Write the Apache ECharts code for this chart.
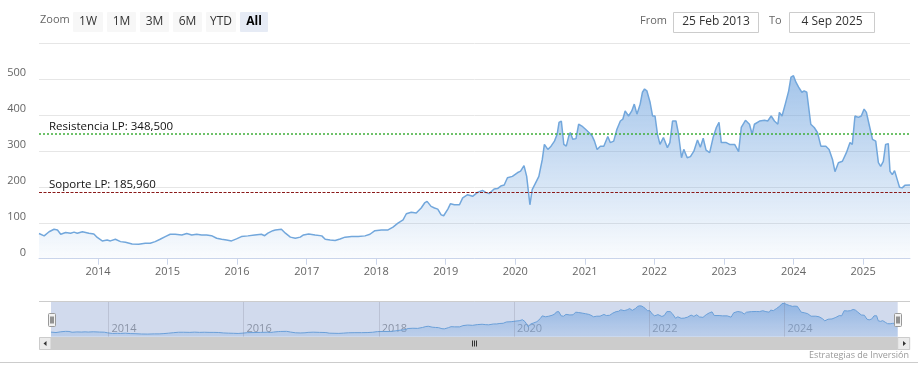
<!DOCTYPE html>
<html><head><meta charset="utf-8">
<script src="https://cdn.jsdelivr.net/npm/echarts@6/dist/echarts.min.js"></script>
<style>html,body{margin:0;padding:0;background:#fff}#c{width:918px;height:375px}</style>
</head><body><div id="c"></div><script>
const dates = [
'2013-02-25','2013-03-24','2013-04-19','2013-05-15','2013-06-02','2013-06-19','2013-07-15','2013-08-10','2013-08-28','2013-09-14','2013-10-11','2013-11-14','2013-12-10','2013-12-28',
'2014-01-23','2014-02-18','2014-03-07','2014-04-02','2014-04-29','2014-05-25','2014-06-29','2014-08-02','2014-09-06','2014-10-02','2014-10-28','2014-11-23','2014-12-20',
'2015-01-15','2015-02-10','2015-03-17','2015-04-12','2015-05-08','2015-06-03','2015-06-29','2015-07-25','2015-08-20','2015-09-16','2015-10-12','2015-11-07','2015-12-03','2015-12-29',
'2016-01-24','2016-02-27','2016-04-03','2016-05-08','2016-05-25','2016-06-11','2016-07-07','2016-07-20','2016-08-21','2016-09-11','2016-10-07','2016-11-02','2016-11-28','2016-12-15',
'2017-01-11','2017-02-14','2017-03-21','2017-04-08','2017-05-04','2017-05-30','2017-06-25','2017-07-21','2017-08-25','2017-09-29','2017-11-03','2017-11-29','2017-12-25',
'2018-01-28','2018-03-04','2018-03-30','2018-04-25','2018-05-22','2018-06-08','2018-07-04','2018-07-30','2018-08-25','2018-09-12','2018-09-25','2018-10-16','2018-11-03','2018-11-20','2018-12-08','2018-12-21',
'2019-01-12','2019-01-26','2019-02-15','2019-03-14','2019-03-31','2019-04-26','2019-05-22','2019-06-17','2019-07-13','2019-07-30','2019-08-17','2019-09-12','2019-09-30','2019-10-17','2019-11-04','2019-11-21','2019-12-17',
'2020-01-12','2020-01-29','2020-02-16','2020-03-01','2020-03-09','2020-03-18','2020-03-30','2020-04-17','2020-05-04','2020-05-22','2020-06-02','2020-06-20','2020-07-07','2020-07-25','2020-08-08','2020-08-18','2020-08-30','2020-09-12','2020-09-25','2020-10-08','2020-10-16','2020-10-29','2020-11-15','2020-11-29','2020-12-16',
'2021-01-04','2021-01-22','2021-02-08','2021-02-20','2021-03-06','2021-03-23','2021-04-10','2021-05-01','2021-05-14','2021-06-01','2021-06-18','2021-07-06','2021-07-19','2021-07-31','2021-08-18','2021-09-04','2021-09-17','2021-10-01','2021-10-18','2021-10-30','2021-11-10','2021-11-22','2021-12-09','2021-12-22',
'2022-01-04','2022-01-17','2022-01-30','2022-02-17','2022-03-10','2022-03-23','2022-04-06','2022-04-24','2022-05-06','2022-05-23','2022-06-04','2022-06-22','2022-07-09','2022-07-27','2022-08-15','2022-08-30','2022-09-14','2022-09-29','2022-10-18','2022-11-05','2022-11-22','2022-12-06','2022-12-18',
'2023-01-13','2023-01-31','2023-02-26','2023-03-19','2023-04-02','2023-04-24','2023-05-15','2023-05-29','2023-06-10','2023-07-07','2023-08-02','2023-08-19','2023-09-06','2023-09-23','2023-10-11','2023-10-19','2023-11-02','2023-11-19','2023-12-07','2023-12-19',
'2024-01-01','2024-01-14','2024-01-28','2024-02-14','2024-02-26','2024-03-11','2024-03-20','2024-04-01','2024-04-19','2024-05-06','2024-05-24','2024-06-19','2024-07-06','2024-07-24','2024-08-06','2024-08-24','2024-09-14','2024-10-05','2024-10-24','2024-11-05','2024-11-19','2024-12-07','2024-12-22',
'2025-01-06','2025-01-18','2025-02-01','2025-02-19','2025-03-08','2025-03-22','2025-04-03','2025-04-17','2025-04-29','2025-05-13','2025-05-22','2025-06-03','2025-06-15','2025-06-29','2025-07-11','2025-07-25','2025-08-08','2025-09-04'
];
const values = [
70,63.5,75,82,80,68,73,71,74,71,75,71,69,59,
49.5,52,49.5,54,47.5,46,41,40,43,43,47.5,54,61.5,
68,68,66,70,66,68,66,66,64,57,54,52,49.5,55,
61.5,63.5,66,68,64,71,78,80,82,71,60,57,60,66,
69,66,63.5,54,52,50.5,55,60,61.5,61.5,63.5,68,78,
80,80,88,99,108,125,129,127,141,155,159.5,145.5,141,138,122,119.5,
138,153,150,150,169,178,173.5,184.5,190,184.5,181,194,195,202,205,225,229,
239,243.5,259,229,192,150,192,211,229,276,318,304,313,327,346,379,383,318,313,341,351,332,334,374,369,
360,351,341,327,304,313,313,340,323,327,360,383,388,411,397,411,430,402,430,463,472,467,435,397,
397,346,318,337,309,323,383,383,351,281,304,281,284,299,330,310,335,302,295,337,365,379,323,
323,318,318,298,365,385,374,346,374,383,385,383,397,383,374,407,397,430,467,505,
509,491,477,463,467,463,467,374,365,351,313,313,304,276,242,267,271,295,323,318,397,393,397,
416,407,374,332,327,267,257,271,318,320,243,234,245,220,199,197,204,205
];
const xYears = [2014,2015,2016,2017,2018,2019,2020,2021,2022,2023,2024,2025];
const navYears = [2014,2016,2018,2020,2022,2024];
const yTicks = [0,100,200,300,400,500,600];
const levels = [
  {name:'Resistencia LP', value:348.5, text:'348,500', color:'#3fae3a', dash:[2,2], width:1.5},
  {name:'Soporte LP', value:185.96, text:'185,960', color:'#8b1a1a', dash:[3,1.5], width:1.2}
];
const rangeButtons = ['1W','1M','3M','6M','YTD','All'];
const fromText = '25 Feb 2013', toText = '4 Sep 2025';

const F = 'Open Sans';
const data = dates.map((d,i)=>[Date.parse(d), values[i]]);
const xMin = Date.parse(dates[0]), xMax = Date.parse(dates[dates.length-1]);
const yearVals = xYears.map(y=>Date.UTC(y,0,1));
const navVals = navYears.map(y=>Date.UTC(y,0,1));
const yr = v => String(new Date(v).getUTCFullYear());

// UI chrome (range selector, inputs, scrollbar)
const graphics = [];
graphics.push({type:'text', left:40, top:14, style:{text:'Zoom', fill:'#666', font:'11px "Open Sans"'}});
const btnX = [73,107,140,173,206,240], btnW = [30,29,29,29,30,28];
rangeButtons.forEach((b,i)=>{
  const sel = b==='All';
  graphics.push({type:'rect', shape:{x:btnX[i], y:12, width:btnW[i], height:20, r:1}, style:{fill: sel?'#e6ebf5':'#f7f7f7'}});
  graphics.push({type:'text', x:btnX[i]+btnW[i]/2, y:22, style:{text:b, fill: sel?'#000':'#333', align:'center', verticalAlign:'middle', font:(sel?'bold ':'')+'12px "Open Sans"'}});
});
graphics.push({type:'text', x:640, y:21, style:{text:'From', fill:'#666', verticalAlign:'middle', font:'11px "Open Sans"'}});
graphics.push({type:'rect', shape:{x:673.5, y:12.5, width:85, height:20}, style:{fill:'#fff', stroke:'#cccccc', lineWidth:1}});
graphics.push({type:'text', x:716, y:22, style:{text:fromText, fill:'#333', align:'center', verticalAlign:'middle', font:'12px "Open Sans"'}});
graphics.push({type:'text', x:769, y:21, style:{text:'To', fill:'#666', verticalAlign:'middle', font:'11px "Open Sans"'}});
graphics.push({type:'rect', shape:{x:789.5, y:12.5, width:85, height:20}, style:{fill:'#fff', stroke:'#cccccc', lineWidth:1}});
graphics.push({type:'text', x:832, y:22, style:{text:toText, fill:'#333', align:'center', verticalAlign:'middle', font:'12px "Open Sans"'}});
// navigator outline
graphics.push({type:'line', shape:{x1:39, y1:301.5, x2:910, y2:301.5}, style:{stroke:'#cccccc', lineWidth:1}, z:10});
// handles
[[48.5,313.5],[894.5,313.5]].forEach(p=>{
  graphics.push({type:'rect', shape:{x:p[0], y:p[1], width:7, height:13, r:1}, style:{fill:'#f2f2f2', stroke:'#999', lineWidth:1}, z:20});
  graphics.push({type:'line', shape:{x1:p[0]+2.5, y1:p[1]+3, x2:p[0]+2.5, y2:p[1]+10}, style:{stroke:'#333', lineWidth:1}, z:21});
  graphics.push({type:'line', shape:{x1:p[0]+4.5, y1:p[1]+3, x2:p[0]+4.5, y2:p[1]+10}, style:{stroke:'#333', lineWidth:1}, z:21});
});
// scrollbar
graphics.push({type:'rect', shape:{x:39, y:337, width:871, height:13}, style:{fill:'#f2f2f2'}});
graphics.push({type:'rect', shape:{x:51, y:337, width:846.7, height:13}, style:{fill:'#cccccc'}});
graphics.push({type:'rect', shape:{x:39.5, y:337.5, width:11.5, height:12}, style:{fill:'#ebebeb', stroke:'#cccccc', lineWidth:1}});
graphics.push({type:'rect', shape:{x:897.7, y:337.5, width:12, height:12}, style:{fill:'#ebebeb', stroke:'#cccccc', lineWidth:1}});
graphics.push({type:'polygon', shape:{points:[[43.5,343.5],[46.5,341],[46.5,346]]}, style:{fill:'#333'}});
graphics.push({type:'polygon', shape:{points:[[906,343.5],[903,341],[903,346]]}, style:{fill:'#333'}});
[472.5,474.5,476.5].forEach(x=>graphics.push({type:'line', shape:{x1:x, y1:340.5, x2:x, y2:346.5}, style:{stroke:'#333', lineWidth:1}}));
graphics.push({type:'text', x:909, y:355, style:{text:'Estrategias de Inversión', fill:'#999', align:'right', verticalAlign:'middle', font:'9px "Open Sans"'}});
graphics.push({type:'line', shape:{x1:0, y1:362.5, x2:918, y2:362.5}, style:{stroke:'#cccccc', lineWidth:1}});

const chart = echarts.init(document.getElementById('c'));
chart.setOption({
  animation:false,
  textStyle:{fontFamily:F},
  grid:[{left:39, right:8, top:43, bottom:116.3},{left:51, right:20.3, top:301, height:35.7}],
  xAxis:[
    {type:'value', gridIndex:0, min:xMin, max:xMax,
     axisLine:{show:true, lineStyle:{color:'#ccd6eb'}},
     axisTick:{show:true, customValues:yearVals, length:6, lineStyle:{color:'#ccd6eb'}},
     axisLabel:{customValues:yearVals, formatter:yr, color:'#666', fontSize:11, margin:8, fontFamily:F},
     splitLine:{show:false}},
    {type:'value', gridIndex:1, min:xMin, max:xMax,
     axisLine:{show:false}, axisTick:{show:false},
     axisLabel:{customValues:navVals, formatter:yr, inside:true, color:'#999', fontSize:11, align:'left', padding:[0,0,0,3], margin:2, fontFamily:F},
     splitLine:{show:false}}
  ],
  yAxis:[
    {type:'value', gridIndex:0, min:yTicks[0], max:yTicks[yTicks.length-1], interval:100,
     axisLine:{show:false}, axisTick:{show:false},
     axisLabel:{formatter:v=> v===600 ? '' : String(v), color:'#666', fontSize:11, margin:13, verticalAlign:'bottom', lineHeight:12, fontFamily:F},
     splitLine:{lineStyle:{color:'#e6e6e6'}}},
    {type:'value', gridIndex:1, min:0, max:545, show:false}
  ],
  series:[
    {type:'line', xAxisIndex:0, yAxisIndex:0, data:data, symbol:'none', smooth:false,
     lineStyle:{color:'#72a7dc', width:1.5},
     areaStyle:{color:new echarts.graphic.LinearGradient(0,0,0,1,[{offset:0,color:'rgba(111,163,222,0.9)'},{offset:1,color:'rgba(111,163,222,0.05)'}])},
     markLine:{silent:true, symbol:'none', precision:3,
       data: levels.map(l=>({yAxis:l.value, itemStyle:{color:l.color}, lineStyle:{color:l.color, type:l.dash, width:l.width, opacity:1},
         label:{show:true, position:'insideStartTop', formatter:l.name+': '+l.text, color:'#111', fontSize:11.5, fontFamily:F, distance:[10,1]}}))}
    },
    {type:'line', xAxisIndex:1, yAxisIndex:1, data:data, symbol:'none',
     lineStyle:{color:'#6a9fd8', width:1},
     areaStyle:{color:new echarts.graphic.LinearGradient(0,0,0,1,[{offset:0,color:'rgba(100,155,220,0.85)'},{offset:1,color:'rgba(124,170,225,0.35)'}])},
     markArea:{silent:true, itemStyle:{color:'rgba(102,133,194,0.3)'}, data:[[{xAxis:xMin},{xAxis:xMax}]]},
     markLine:{silent:true, symbol:'none', label:{show:false}, lineStyle:{color:'rgba(120,120,140,0.25)', type:'solid', width:1},
       data: navVals.map(v=>({xAxis:v}))}
    }
  ],
  graphic: graphics
});
</script></body></html>
